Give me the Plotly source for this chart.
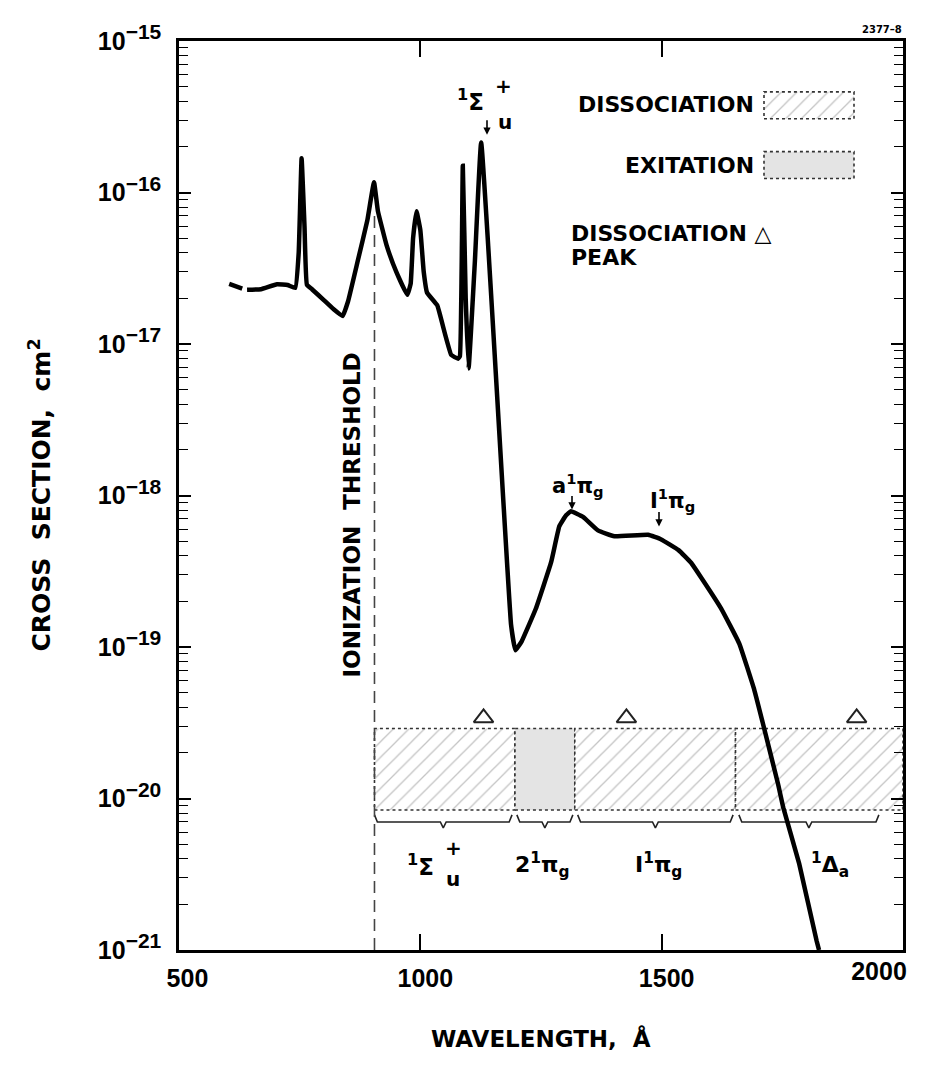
import plotly.graph_objects as go

# ---------------- data ----------------
# short isolated stroke at the start of the spectrum
dash_wl = [604, 631]
dash_cs = [2.49e-17, 2.32e-17]

# photo-absorption cross section (Angstrom, cm^2)
wavelength = [641, 670, 703, 725, 741, 748, 754, 760, 765, 776, 800, 820, 839, 850, 870,
              890, 904, 912, 930, 950, 973, 980, 985, 992, 1000, 1007, 1014, 1035,
              1050, 1064, 1078, 1082, 1088, 1094, 1100, 1113, 1126,
              1188, 1197, 1210, 1239, 1271, 1288, 1302, 1312, 1337, 1368, 1402, 1472,
              1499, 1535, 1561, 1581, 1623, 1661, 1692, 1709, 1741, 1752, 1785, 1821, 1826]
cross_section = [2.28e-17, 2.30e-17, 2.48e-17, 2.45e-17, 2.35e-17, 4.0e-17, 1.68e-16, 6.0e-17,
                 2.46e-17, 2.29e-17, 1.95e-17, 1.70e-17, 1.53e-17, 1.9e-17, 3.5e-17,
                 6.5e-17, 1.17e-16, 7.57e-17, 4.5e-17, 3.0e-17, 2.11e-17, 2.5e-17, 5.0e-17,
                 7.53e-17, 5.66e-17, 3.0e-17, 2.18e-17, 1.80e-17,
                 1.2e-17, 8.47e-18, 8.0e-18, 8.3e-18, 1.5e-16, 2.0e-17, 6.9e-18, 3.5e-17,
                 2.14e-16,
                 1.4e-19, 9.5e-20, 1.09e-19, 1.78e-19, 3.63e-19, 6.27e-19, 7.4e-19, 7.88e-19,
                 7.22e-19, 5.88e-19, 5.38e-19, 5.5e-19,
                 5.13e-19, 4.36e-19, 3.6e-19, 2.9e-19, 1.8e-19, 1.05e-19, 5.2e-20, 3.2e-20,
                 1.25e-20, 8.7e-21, 3.7e-21, 1.15e-21, 1.0e-21]

ionization_threshold = 905
threshold_top = 7.0e-17

# band of final states
band_edges = [905, 1196, 1320, 1653, 2000]
band_kind = ["dissociation", "excitation", "dissociation", "dissociation"]
band_top = 2.9e-20
band_bottom = 8.4e-21

peak_wl = [1131, 1427, 1904]
peak_cs = [3.4e-20, 3.4e-20, 3.4e-20]

brace_spans = [(905, 1190), (1200, 1316), (1326, 1648), (1660, 1950)]
brace_level = 7.0e-21
brace_end = 7.8e-21
brace_dip = 6.4e-21

x_tick_vals = [500, 1000, 1500, 2000]
x_tick_text = ["\u00a0500", "1000", "1500", ""]
x_end_tick = [2000]
x_end_text = ["2000"]
y_tick_vals = [1e-21, 1e-20, 1e-19, 1e-18, 1e-17, 1e-16, 1e-15]
y_exponents = ["21", "20", "19", "18", "17", "16", "15"]
y_minor_vals = [k * 10.0 ** n for n in range(-21, -15) for k in range(2, 10)]

# ---------------- layout helpers ----------------
W, H = 930, 1071
DX, DY = -8, -9
L, R, T, B = 179 + DX, 903 + DX, 39 + DY, 951 + DY


def px(x):
    return (x + DX - L) / (R - L)


def py(y):
    return (B - (y + DY)) / (B - T)


FONT = "DejaVu Sans, Liberation Sans, sans-serif"
TICKFONT = "Liberation Sans, Arial, sans-serif"
y_tick_text = ["10<sup><span style='font-size:21px'>\u2212%s</span></sup>" % e
               for e in y_exponents]

fig = go.Figure()

HATCH = dict(shape="/", fgcolor="#8a8a8a", bgcolor="white", size=11, solidity=0.12)
EDGE = dict(color="#333", width=1.6, dash="dot")

# band rectangles
for i, kind in enumerate(band_kind):
    x0, x1 = band_edges[i], band_edges[i + 1]
    xs = [x0, x1, x1, x0, x0]
    ys = [band_bottom, band_bottom, band_top, band_top, band_bottom]
    if kind == "dissociation":
        fig.add_trace(go.Scatter(x=xs, y=ys, mode="lines", fill="toself",
                                 fillcolor="rgba(0,0,0,0)", fillpattern=HATCH, line=EDGE,
                                 hoverinfo="skip", showlegend=False))
    else:
        fig.add_trace(go.Scatter(x=xs, y=ys, mode="lines", fill="toself",
                                 fillcolor="#e4e4e4", line=EDGE,
                                 hoverinfo="skip", showlegend=False))

# braces under the band
for (a, b) in brace_spans:
    m = 0.5 * (a + b)
    d = 6
    fig.add_trace(go.Scatter(x=[a, a + d, m - d, m, m + d, b - d, b],
                             y=[brace_end, brace_level, brace_level, brace_dip, brace_level,
                                brace_level, brace_end],
                             mode="lines", line=dict(color="#222", width=1.6),
                             hoverinfo="skip", showlegend=False))

# dissociation peaks
fig.add_trace(go.Scatter(x=peak_wl, y=peak_cs, mode="markers",
                         marker=dict(symbol="triangle-up-open", size=17, color="#222",
                                     line=dict(width=2)),
                         hoverinfo="skip", showlegend=False))

# ionization threshold
fig.add_trace(go.Scatter(x=[ionization_threshold, ionization_threshold],
                         y=[threshold_top, 1e-21], mode="lines",
                         line=dict(color="#444", width=1.6, dash="12px,7px"),
                         hoverinfo="skip", showlegend=False))

# spectrum
fig.add_trace(go.Scatter(x=dash_wl, y=dash_cs, mode="lines",
                         line=dict(color="black", width=4.5), showlegend=False))
fig.add_trace(go.Scatter(x=wavelength, y=cross_section, mode="lines",
                         line=dict(color="black", width=4.5, shape="spline", smoothing=0.3),
                         showlegend=False))

# anchor traces for the minor-tick axis and the end-label axis
fig.add_trace(go.Scatter(x=[None], y=[None], yaxis="y3", mode="lines",
                         hoverinfo="skip", showlegend=False))
fig.add_trace(go.Scatter(x=[None], y=[None], xaxis="x3", mode="lines",
                         hoverinfo="skip", showlegend=False))

# legend swatches on an overlay paper-like axis
sw_x0, sw_x1 = px(764), px(854)
for (ya, yb, hatched) in [(py(117), py(90), True), (py(177), py(150), False)]:
    xs = [sw_x0, sw_x1, sw_x1, sw_x0, sw_x0]
    ys = [ya, ya, yb, yb, ya]
    fig.add_trace(go.Scatter(x=xs, y=ys, xaxis="x2", yaxis="y2", mode="lines",
                             fill="toself",
                             fillcolor="rgba(0,0,0,0)" if hatched else "#e4e4e4",
                             fillpattern=HATCH if hatched else None,
                             line=EDGE, hoverinfo="skip", showlegend=False))

ann = []


def text(x, y, s, size=22, xanchor="center", yanchor="middle", angle=0, xdata=False):
    ann.append(dict(x=x if xdata else px(x), y=py(y), xref="x" if xdata else "paper",
                    yref="paper", text=s, showarrow=False,
                    xanchor=xanchor, yanchor=yanchor, textangle=angle,
                    font=dict(family=FONT, size=size, color="black", weight="bold")))


def arrow(x, y_tip, y_tail):
    ann.append(dict(x=px(x), y=py(y_tip), xref="paper", yref="paper", text="",
                    showarrow=True, arrowhead=2, arrowsize=0.9, arrowwidth=1.6,
                    arrowcolor="black", ax=0, ay=-(y_tip - y_tail)))


# legend texts
text(756, 103, "DISSOCIATION", xanchor="right")
text(756, 164, "EXITATION", xanchor="right")
text(569, 232, "DISSOCIATION \u25b3", xanchor="left")
text(569, 256, "PEAK", xanchor="left")
text(904, 27, "2377\u20138", size=10, xanchor="right")

# peak labels
text(470, 98, "<sup>1</sup>\u03a3", size=23)
text(503, 84, "+", size=20)
text(505, 120, "u", size=20)
arrow(487, 133, 117)

text(578, 484, "a<sup>1</sup>\u03c0<sub>g</sub>", size=21)
arrow(572, 509, 494)
text(672, 500, "I<sup>1</sup>\u03c0<sub>g</sub>", size=21)
arrow(659, 526, 510)

# band labels
text(420, 866, "<sup>1</sup>\u03a3", size=23)
text(453, 849, "+", size=20)
text(453, 880, "u", size=20)
text(542, 866, "2<sup>1</sup>\u03c0<sub>g</sub>", size=22)
text(658, 866, "I<sup>1</sup>\u03c0<sub>g</sub>", size=22)
text(830, 866, "<sup>1</sup>\u0394<sub>a</sub>", size=22)

# threshold label
text(352, 515, "IONIZATION  THRESHOLD", size=23, angle=-90)

# axis titles
text(40, 495, "CROSS  SECTION,  cm<sup>2</sup>", size=25, angle=-90)
text(1250, 1040, "WAVELENGTH,  \u00c5", size=23, xdata=True)

XTICKFONT = dict(family=TICKFONT, size=25, color="black", weight="bold")

fig.update_layout(
    width=W, height=H,
    margin=dict(l=L, r=W - R, t=T, b=H - B, pad=0),
    paper_bgcolor="white", plot_bgcolor="white",
    showlegend=False,
    annotations=ann,
    xaxis=dict(range=[500, 2000], tickmode="array", tickvals=x_tick_vals,
               ticktext=x_tick_text, ticks="inside", ticklen=16,
               tickwidth=1.6, tickcolor="black", showline=True, linecolor="black",
               linewidth=2.5, mirror="ticks", showgrid=False, zeroline=False,
               ticklabelstandoff=4, ticklabelshift=5, tickfont=XTICKFONT),
    xaxis3=dict(range=[500, 2000], overlaying="x", anchor="y", side="bottom",
                tickmode="array", tickvals=x_end_tick, ticktext=x_end_text, ticks="",
                showline=False, showgrid=False, zeroline=False,
                ticklabelstandoff=4, ticklabelshift=-24, tickfont=XTICKFONT),
    yaxis=dict(type="log", range=[-21, -15], tickmode="array", tickvals=y_tick_vals,
               ticktext=y_tick_text, ticks="inside", ticklen=12, tickwidth=1.6,
               tickcolor="black", showline=True, linecolor="black", linewidth=2.5,
               mirror="ticks", showgrid=False, zeroline=False, ticklabelstandoff=10,
               tickfont=dict(family=TICKFONT, size=25, color="black", weight="bold")),
    yaxis3=dict(type="log", range=[-21, -15], overlaying="y", anchor="x", side="left",
                tickmode="array", tickvals=y_minor_vals, ticks="inside", ticklen=9,
                tickwidth=1.4, tickcolor="black", showticklabels=False, showline=False,
                mirror="ticks", showgrid=False, zeroline=False),
    xaxis2=dict(overlaying="x", range=[0, 1], visible=False, anchor="y2"),
    yaxis2=dict(overlaying="y", range=[0, 1], visible=False, anchor="x2"),
)

fig.write_html("out.html")
